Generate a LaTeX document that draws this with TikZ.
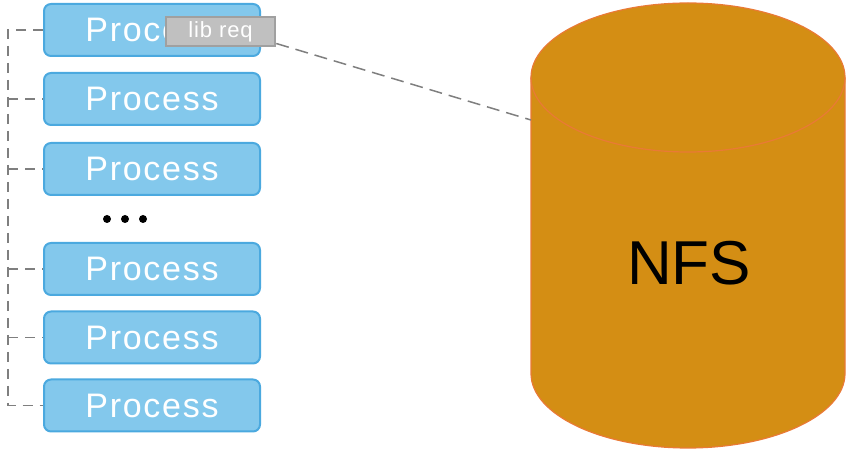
\documentclass[tikz,border=0pt]{standalone}
\usepackage{fontspec}
\setmainfont{Liberation Sans}
\newfontfamily\procfont[LetterSpace=5]{Liberation Sans}
\newfontfamily\tagfont[LetterSpace=4]{Liberation Sans}
\definecolor{procfill}{HTML}{83C8EC}
\definecolor{procline}{HTML}{4BA9DF}
\definecolor{tagfill}{HTML}{C0C0C0}
\definecolor{tagline}{HTML}{A0A0A0}
\definecolor{linkgray}{HTML}{7F7F7F}
\definecolor{nfsfill}{HTML}{D48E14}
\definecolor{nfsline}{HTML}{E97A36}
\begin{document}
\begin{tikzpicture}[x=1pt,y=1pt,
  procbox/.style={draw=procline, fill=procfill, line width=2pt, rounded corners=7pt,
    minimum width=216pt, minimum height=52pt, inner sep=0pt,
    text=white, font=\procfont\fontsize{34}{40}\selectfont},
  tagbox/.style={draw=tagline, fill=tagfill, line width=2.5pt,
    minimum width=109pt, minimum height=29pt, inner sep=0pt,
    text=white, font=\tagfont\fontsize{22}{26}\selectfont},
  bracket/.style={draw=linkgray, line width=1.3pt, dash pattern=on 10pt off 7pt},
  link/.style={draw=linkgray, line width=1.5pt, dash pattern=on 13pt off 7pt},
  dotmark/.style={circle, fill=black, inner sep=0pt, minimum size=8pt}
]
\useasboundingbox (0,0) rectangle (846,455);

% process column
\node[procbox] (p1) at (152,425) {Process};
\node[procbox] (p2) at (152,356) {Process};
\node[procbox] (p3) at (152,286) {Process};
\node[procbox] (p4) at (152,186) {Process};
\node[procbox] (p5) at (152,117.5) {Process};
\node[procbox] (p6) at (152,49.5) {Process};

% ellipsis between the groups
\node[dotmark] (d1) at (107,236) {};
\node[dotmark] (d2) at (125,236) {};
\node[dotmark] (d3) at (143,236) {};

% dashed bracket joining the processes
\coordinate (rail) at (8,0);
\draw[bracket] (p1.west) -- (rail |- p1.west) -- (rail |- p6.west) -- (p6.west);
\foreach \p in {p2,p3,p4,p5}
  \draw[bracket] (rail |- \p.west) -- (\p.west);

% NFS storage cylinder
\fill[nfsfill] (531,377.5) -- (531,81.5)
  arc[start angle=180, end angle=360, x radius=157, y radius=74.5]
  -- (845,377.5)
  arc[start angle=0, end angle=180, x radius=157, y radius=74.5] -- cycle;
\draw[nfsline, line width=1.2pt] (531,377.5) -- (531,81.5)
  arc[start angle=180, end angle=360, x radius=157, y radius=74.5]
  -- (845,377.5);
\draw[nfsline, line width=1.2pt] (688,377.5) ellipse[x radius=157, y radius=74.5];
\node[font=\fontsize{62}{70}\selectfont, text=black] (nfs) at (689,192) {NFS};
\coordinate (nfsedge) at (531,335);

% library request
\node[tagbox] (lib) at (220.5,423.5) {lib req};
\draw[link] ([yshift=-12pt]lib.east) -- (nfsedge);
\end{tikzpicture}
\end{document}
